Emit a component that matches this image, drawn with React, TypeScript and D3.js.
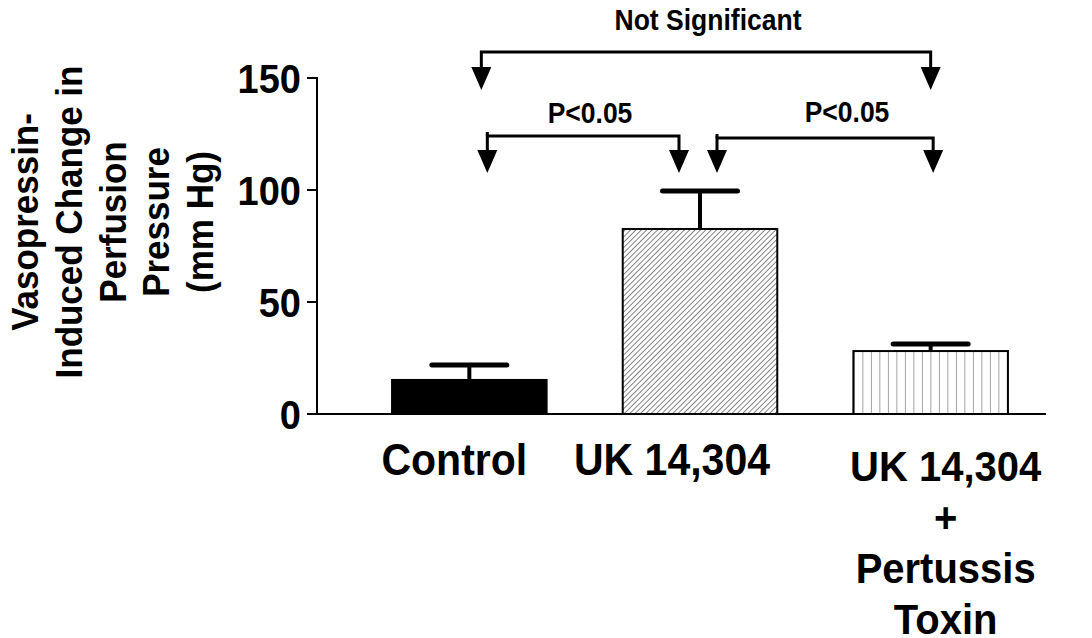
import React from "react";
import * as d3 from "d3";

const categories = ["Control", "UK 14,304", "UK 14,304 + Pertussis Toxin"];
const labelLines = [["Control"], ["UK 14,304"], ["UK 14,304", "+", "Pertussis", "Toxin"]];
const means = [15.2, 82.6, 28.1];
const sems = [6.7, 17.0, 3.1];
const yTicks = [0, 50, 100, 150];
const yTitleLines = ["Vasopressin-", "Induced Change in", "Perfusion", "Pressure", "(mm Hg)"];
const comparisons = [
  { from: 0, to: 2, label: "Not Significant" },
  { from: 0, to: 1, label: "P<0.05" },
  { from: 1, to: 2, label: "P<0.05" },
];

// layout for the comparison brackets (pixel geometry)
const bracketLayout = [
  { dx1: 12, dx2: 0, lineY: 52, tipY: 90, textX: 708, textY: 30, fs: 26.5, tick: false },
  { dx1: 18, dx2: -21, lineY: 136, tipY: 173, textX: 590, textY: 123, fs: 26.5, tick: true },
  { dx1: 17, dx2: 2.5, lineY: 138, tipY: 173, textX: 847, textY: 122, fs: 26.5, tick: true },
];
const labelLayout = [
  { dx: -15, y0: 475, fs: 41 },
  { dx: -28, y0: 475, fs: 41 },
  { dx: 15, y0: 481, fs: 40 },
];

const FONT = "Arial, 'Liberation Sans', sans-serif";
const SY = 1.08;

export default function App() {
  const W = 1092;
  const H = 638;
  const y = d3.scaleLinear().domain([0, 150]).range([414, 78]);
  const x = d3
    .scaleBand<string>()
    .domain(categories)
    .range([354, 1046])
    .paddingInner(0.33)
    .paddingOuter(0.165);
  const bw = x.bandwidth();
  const cx = (i: number) => (x(categories[i]) as number) + bw / 2;
  const axisX = 317;
  const fills = ["#000", "url(#diag)", "url(#vert)"];

  const arrowHead = (tx: number, tipY: number) => {
    const p = d3.path();
    p.moveTo(tx - 10, tipY - 23);
    p.lineTo(tx + 10, tipY - 23);
    p.lineTo(tx, tipY);
    p.closePath();
    return p.toString();
  };

  return (
    <svg
      width={W}
      height={H}
      style={{ position: "absolute", left: 0, top: 0, background: "#fff" }}
      fontFamily={FONT}
    >
      <defs>
        <pattern
          id="diag"
          patternUnits="userSpaceOnUse"
          width={3.8}
          height={3.8}
          patternTransform="rotate(45)"
        >
          <rect width={3.8} height={3.8} fill="#fff" />
          <line x1={0.5} y1={0} x2={0.5} y2={3.8} stroke="#777" strokeWidth={0.9} />
        </pattern>
        <pattern
          id="vert"
          patternUnits="userSpaceOnUse"
          x={(x(categories[2]) as number) + 0.5}
          y={0}
          width={8.5}
          height={10}
        >
          <rect width={8.5} height={10} fill="#fff" />
          <line x1={0} y1={0} x2={0} y2={10} stroke="#444" strokeWidth={1} />
        </pattern>
      </defs>

      <rect width={W} height={H} fill="#fff" />

      {/* bars */}
      {categories.map((c, i) => (
        <rect
          key={c}
          x={x(c)}
          y={y(means[i])}
          width={bw}
          height={y(0) - y(means[i])}
          fill={fills[i]}
          stroke="#000"
          strokeWidth={2}
        />
      ))}

      {/* error bars */}
      {categories.map((c, i) => (
        <g key={"e" + c}>
          <line
            x1={cx(i)}
            x2={cx(i)}
            y1={y(means[i])}
            y2={y(means[i] + sems[i])}
            stroke="#000"
            strokeWidth={4}
          />
          <line
            x1={cx(i) - 37.5}
            x2={cx(i) + 37.5}
            y1={y(means[i] + sems[i])}
            y2={y(means[i] + sems[i])}
            stroke="#000"
            strokeWidth={5}
            strokeLinecap="round"
          />
        </g>
      ))}

      {/* axes */}
      <line x1={axisX} x2={axisX} y1={y(150) - 1} y2={y(0)} stroke="#000" strokeWidth={2} />
      <line x1={axisX - 1} x2={1046} y1={y(0)} y2={y(0)} stroke="#000" strokeWidth={2} />
      {yTicks.map((t) => (
        <g key={t}>
          <line x1={axisX - 10} x2={axisX} y1={y(t)} y2={y(t)} stroke="#000" strokeWidth={2} />
          <text
            transform={`translate(301,${y(t) + 14.5}) scale(1,${SY})`}
            textAnchor="end"
            fontSize={38}
            fontWeight="bold"
          >
            {t}
          </text>
        </g>
      ))}

      {/* y title */}
      {yTitleLines.map((l, i) => (
        <text
          key={l}
          transform={`translate(${38 + 43.8 * i},222) rotate(-90) scale(1,${SY})`}
          textAnchor="middle"
          fontSize={35}
          fontWeight="bold"
        >
          {l}
        </text>
      ))}

      {/* category labels */}
      {labelLines.map((lines, i) =>
        lines.map((l, j) => (
          <text
            key={i + "-" + j}
            transform={`translate(${cx(i) + labelLayout[i].dx},${labelLayout[i].y0 + j * 51}) scale(1,${SY})`}
            textAnchor="middle"
            fontSize={labelLayout[i].fs}
            fontWeight="bold"
          >
            {l}
          </text>
        ))
      )}

      {/* comparison brackets */}
      {comparisons.map((cmp, k) => {
        const L = bracketLayout[k];
        const x1 = cx(cmp.from) + L.dx1;
        const x2 = cx(cmp.to) + L.dx2;
        return (
          <g key={"c" + k}>
            <path
              d={`M${x1},${L.tipY - 22}V${L.lineY}H${x2}V${L.tipY - 22}`}
              fill="none"
              stroke="#000"
              strokeWidth={3}
            />
            {L.tick && (
              <line x1={x1} x2={x1} y1={L.lineY - 4} y2={L.lineY} stroke="#000" strokeWidth={3} />
            )}
            <path d={arrowHead(x1, L.tipY)} fill="#000" />
            <path d={arrowHead(x2, L.tipY)} fill="#000" />
            <text
              transform={`translate(${L.textX},${L.textY}) scale(1,${SY})`}
              textAnchor="middle"
              fontSize={L.fs}
              fontWeight="bold"
            >
              {cmp.label}
            </text>
          </g>
        );
      })}
    </svg>
  );
}
